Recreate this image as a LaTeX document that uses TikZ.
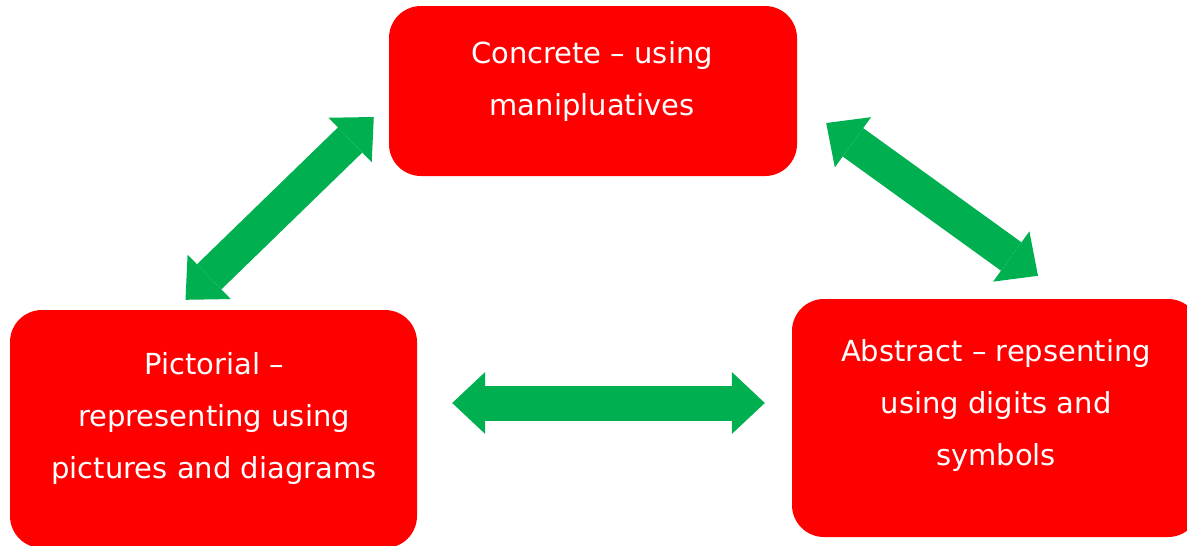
\documentclass[tikz,border=0pt]{standalone}
\usepackage{fontspec}
\setmainfont{DejaVu Sans}
\usetikzlibrary{arrows.meta, positioning}
\definecolor{boxred}{HTML}{FF0000}
\definecolor{arrowgreen}{HTML}{00B050}

\begin{document}
\begin{tikzpicture}[x=1pt, y=-1pt,
		stage/.style={fill=boxred, rounded corners=32pt, inner sep=0pt, minimum width=408pt, minimum height=238pt},
		stagetext/.style={text=white, align=center, font=\fontsize{29}{52}\selectfont},
		twoway/.style={arrowgreen, line width=35pt,
			{Triangle[length=33pt, width=62pt, line width=0pt]}-{Triangle[length=33pt, width=62pt, line width=0pt]}}]
	\useasboundingbox (0,0) rectangle (1187,546);

	% the three stages
	\node[stage, minimum height=170pt] (concrete) at (593,91) {};
	\node[stagetext] (concretetext) at (592,81) {Concrete – using\\manipluatives};

	\node[stage, minimum width=407pt] (pictorial) at (213.5,429) {};
	\node[stagetext] (pictorialtext) at (214,418) {Pictorial –\\representing using\\pictures and diagrams};

	\node[stage] (abstract) at (996,418) {};
	\node[stagetext] (abstracttext) at (996,405) {Abstract – repsenting\\using digits and\\symbols};

	% links between stages
	\draw[twoway] ([shift={(-15,26)}]concrete.west) -- ([shift={(-28,-10)}]pictorial.north);
	\draw[twoway] ([shift={(29,32)}]concrete.east) -- ([shift={(42,-23)}]abstract.north);
	\draw[twoway] ([shift={(35,-26)}]pictorial.east) -- ([shift={(-27,-15)}]abstract.west);
\end{tikzpicture}
\end{document}
